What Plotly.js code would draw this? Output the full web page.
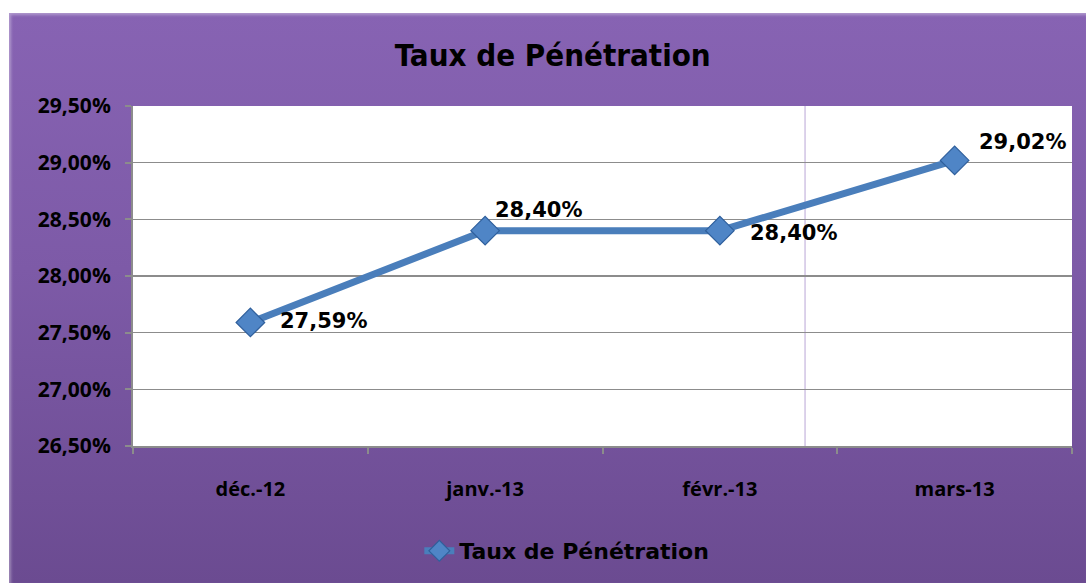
<!DOCTYPE html>
<html>
<head>
<meta charset="utf-8">
<script src="https://cdn.plot.ly/plotly-3.0.1.min.js"></script>
<style>
  html, body { margin: 0; padding: 0; background: #ffffff; }
  #wrap { position: relative; width: 1086px; height: 583px; overflow: hidden; }
  #frame { position: absolute; left: 9px; top: 13px; width: 1077px; height: 570px;
           background: linear-gradient(to bottom, #8763b3 0%, #7d5aa7 45%, #6b4b91 100%);
           box-shadow: inset 2px 2px 3px rgba(255,255,255,0.35); }
  #chart { position: absolute; left: 0; top: 0; width: 1086px; height: 583px; }
</style>
</head>
<body>
<div id="wrap">
  <div id="frame"></div>
  <div id="chart"></div>
</div>
<script>
const categories = ["déc.-12", "janv.-13", "févr.-13", "mars-13"];
const values = [27.59, 28.40, 28.40, 29.02];
const labels = ["27,59%", "28,40%", "28,40%", "29,02%"];
const seriesName = "Taux de Pénétration";
const yTicks = [26.5, 27.0, 27.5, 28.0, 28.5, 29.0, 29.5];
const yTickText = ["26,50%", "27,00%", "27,50%", "28,00%", "28,50%", "29,00%", "29,50%"];
// label offsets (pixels) relative to each point: [xshift, yshift]
const labelShifts = [[28, 1], [8, 21], [28, -2], [22, 18]];

const trace = {
  x: categories,
  y: values,
  name: seriesName,
  type: "scatter",
  mode: "lines+markers",
  line: { color: "#4a7ebb", width: 7 },
  marker: { symbol: "diamond", size: 22, color: "#4f85c6", line: { color: "#2f5f9c", width: 1.2 } },
  cliponaxis: false,
  hoverinfo: "skip"
};

const annotations = categories.map((c, i) => ({
  x: c, y: values[i], xref: "x", yref: "y",
  text: "<b>" + labels[i] + "</b>",
  showarrow: false, xanchor: "left", yanchor: "middle",
  xshift: labelShifts[i][0], yshift: labelShifts[i][1],
  font: { family: "DejaVu Sans", size: 21, color: "#000000" }
}));

const layout = {
  width: 1086,
  height: 583,
  paper_bgcolor: "rgba(0,0,0,0)",
  plot_bgcolor: "#ffffff",
  margin: { l: 133, r: 14, t: 106, b: 136 },
  title: {
    text: "<b>Taux de Pénétration</b>",
    font: { family: "DejaVu Sans Condensed, DejaVu Sans", size: 31, color: "#000000" },
    x: 0.509, xanchor: "center", y: 0.905, yanchor: "middle"
  },
  showlegend: true,
  legend: {
    orientation: "h", x: 0.462, xanchor: "center", y: -0.305, yanchor: "middle",
    font: { family: "DejaVu Sans", size: 22, color: "#000000", weight: "bold" },
    bgcolor: "rgba(0,0,0,0)"
  },
  annotations: annotations,
  xaxis: {
    type: "category",
    range: [-0.5, 3.5],
    showgrid: false,
    showline: true, linecolor: "#8c8c8c", linewidth: 2,
    ticks: "outside", tickson: "boundaries", ticklen: 6, tickcolor: "#8c8c8c", tickwidth: 2,
    ticklabelstandoff: 24,
    tickfont: { family: "Open Sans", size: 20, color: "#000000", weight: "bold" },
    fixedrange: true
  },
  yaxis: {
    range: [26.5, 29.5],
    tickvals: yTicks,
    ticktext: yTickText,
    showgrid: true, gridcolor: "#8c8c8c", gridwidth: 1.5,
    showline: true, linecolor: "#8c8c8c", linewidth: 2,
    ticks: "outside", ticklen: 6, tickcolor: "#8c8c8c", tickwidth: 2,
    ticklabelstandoff: 10,
    tickfont: { family: "Open Sans", size: 21, color: "#000000", weight: "bold" },
    zeroline: false,
    fixedrange: true
  },
  shapes: [
    { type: "line", xref: "paper", yref: "paper", x0: 0.7157, x1: 0.7157, y0: 0, y1: 1,
      line: { color: "#b9a6d6", width: 1 }, layer: "below" }
  ]
};

Plotly.newPlot("chart", [trace], layout, { displayModeBar: false, staticPlot: true });
</script>
</body>
</html>
